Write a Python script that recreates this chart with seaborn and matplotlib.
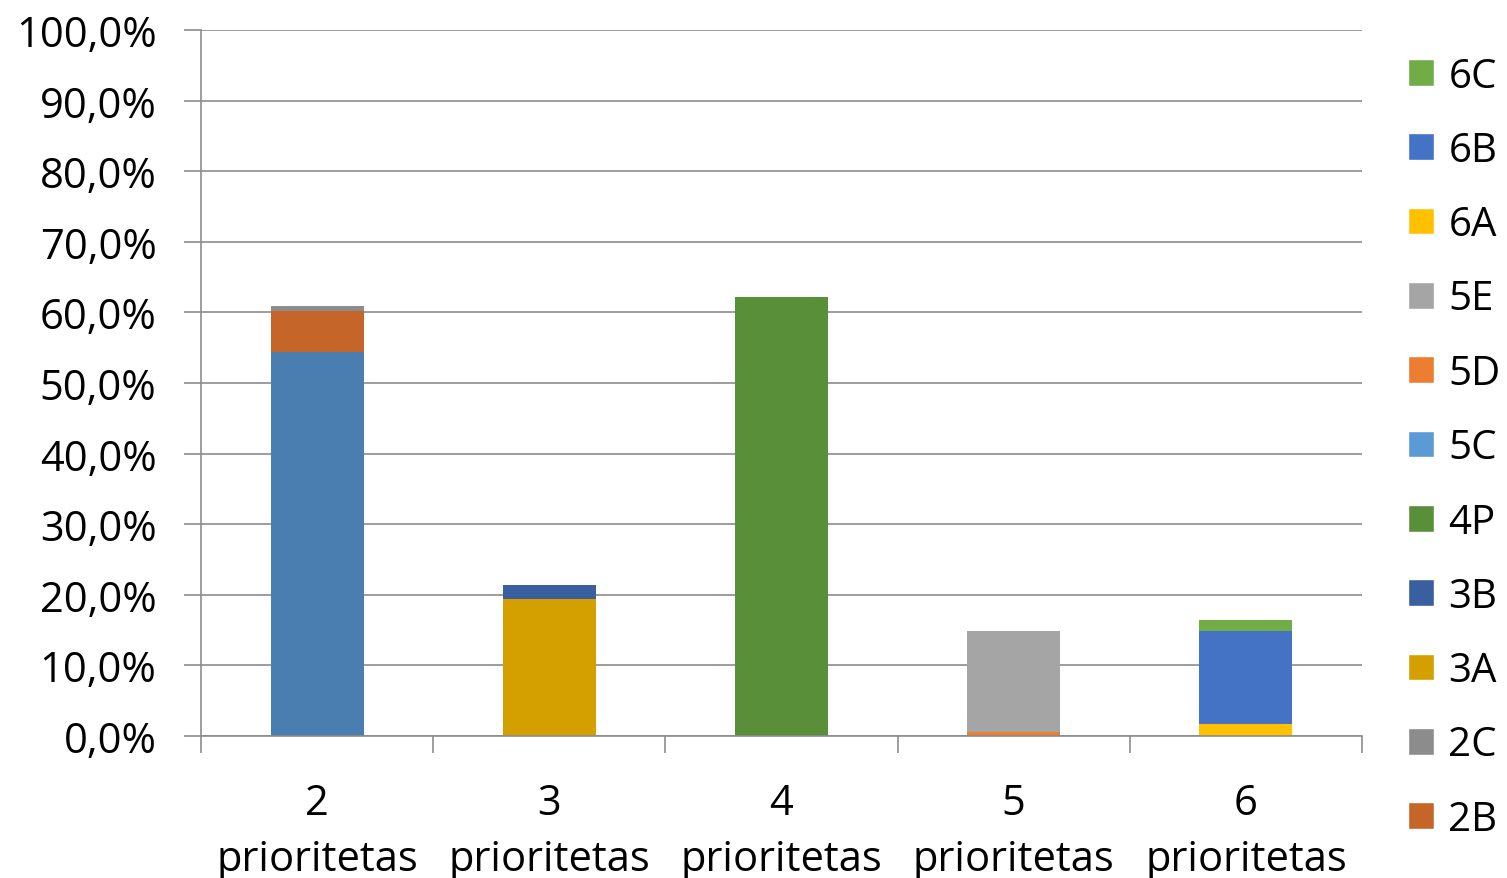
import numpy as np
import pandas as pd
import matplotlib
matplotlib.use("Agg")
import matplotlib.pyplot as plt
from matplotlib.patches import Patch
import seaborn as sns

categories = ["2\nprioritetas", "3\nprioritetas", "4\nprioritetas", "5\nprioritetas", "6\nprioritetas"]

# stacked components, bottom to top (percent)
series_names = ["2A", "2B", "2C", "3A", "3B", "4P", "5C", "5D", "5E", "6A", "6B", "6C"]
s_2A = [54.4, 0, 0, 0, 0]
s_2B = [5.8, 0, 0, 0, 0]
s_2C = [0.7, 0, 0, 0, 0]
s_3A = [0, 19.4, 0, 0, 0]
s_3B = [0, 2.0, 0, 0, 0]
s_4P = [0, 0, 62.2, 0, 0]
s_5C = [0, 0, 0, 0.0, 0]
s_5D = [0, 0, 0, 0.5, 0]
s_5E = [0, 0, 0, 14.4, 0]
s_6A = [0, 0, 0, 0, 1.7]
s_6B = [0, 0, 0, 0, 13.2]
s_6C = [0, 0, 0, 0, 1.5]
series_values = [s_2A, s_2B, s_2C, s_3A, s_3B, s_4P, s_5C, s_5D, s_5E, s_6A, s_6B, s_6C]
colors = ["#4A7EB0", "#C5652A", "#8C8C8C", "#D4A000", "#3A5FA0", "#5A8F3A",
          "#5B9BD5", "#ED7D31", "#A5A5A5", "#FFC000", "#4472C4", "#70AD47"]

sns.set_style("white")
plt.rcParams['font.family'] = ['Open Sans', 'DejaVu Sans']
plt.rcParams['text.color'] = 'black'
plt.rcParams['xtick.color'] = 'black'
plt.rcParams['ytick.color'] = 'black'

fig = plt.figure(figsize=(15.07, 8.79), dpi=100)
ax = fig.add_axes([201/1507, 1 - 737/879, (1362-201)/1507, (737-31)/879])

bottom = np.zeros(len(categories))
for name, vals, col in zip(series_names, series_values, colors):
    df = pd.DataFrame({"cat": categories, "val": vals})
    sns.barplot(data=df, x="cat", y="val", order=categories, color=col,
                width=0.4, bottom=bottom, ax=ax, saturation=1, linewidth=0)
    bottom = bottom + np.array(vals)

ax.set_ylim(0, 100)
ax.set_xlim(-0.5, len(categories) - 0.5)
ax.set_yticks(np.arange(0, 101, 10))
ax.set_yticklabels([f"{v:.1f}%".replace(".", ",") for v in np.arange(0, 101, 10)])
ax.yaxis.grid(True, color="#8C8C8C", linewidth=1.2)
ax.set_axisbelow(True)
ax.set_xlabel("")
ax.set_ylabel("")

for s in ["top", "right"]:
    ax.spines[s].set_visible(False)
ax.spines["left"].set_color("#8C8C8C")
ax.spines["bottom"].set_color("#8C8C8C")
ax.spines["left"].set_linewidth(1.2)
ax.spines["bottom"].set_linewidth(1.2)

# minor ticks between categories
ax.set_xticks(np.arange(-0.5, len(categories), 1), minor=True)
ax.tick_params(axis="x", which="minor", length=12, width=1.2, color="#8C8C8C", bottom=True)
ax.tick_params(axis="x", which="major", length=0, labelsize=30, pad=33)
ax.tick_params(axis="y", which="major", length=12, width=1.2, color="#8C8C8C", left=True,
               labelsize=30, pad=20)
for lbl in ax.get_xticklabels():
    lbl.set_linespacing(1.45)

handles = [Patch(facecolor=c, label=n) for n, c in zip(series_names, colors)][1:][::-1]
fig.legend(handles=handles, loc="upper left", bbox_to_anchor=(1408/1507, 1 - 57/879),
           frameon=False, fontsize=29, handlelength=0.65, handleheight=0.65,
           handletextpad=0.35, labelspacing=0.84, borderaxespad=0, borderpad=0)

fig.savefig("out.png", dpi=100)
